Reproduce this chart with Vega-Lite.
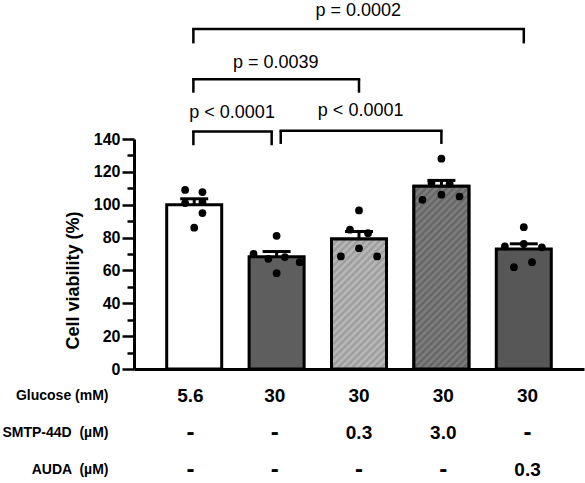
{
  "$schema": "https://vega.github.io/schema/vega-lite/v6.json",
  "padding": {"left": 1, "top": 1, "right": 1, "bottom": 0},
  "bounds": "flush",
  "spacing": 8,
  "config": {
    "view": {"stroke": null},
    "font": "Liberation Sans",
    "axis": {"labelFont": "Liberation Sans", "titleFont": "Liberation Sans", "labelColor": "black", "titleColor": "black"}
  },
  "datasets": {
    "groups": [
      {"group": 1, "cond": "Glucose 5.6", "mean": 100, "upper": 103.6},
      {"group": 2, "cond": "Glucose 30", "mean": 68.3, "upper": 71.5},
      {"group": 3, "cond": "Glucose 30 + SMTP-44D 0.3", "mean": 79.1, "upper": 83.7},
      {"group": 4, "cond": "Glucose 30 + SMTP-44D 3.0", "mean": 111.2, "upper": 114.8},
      {"group": 5, "cond": "Glucose 30 + AUDA 0.3", "mean": 73, "upper": 76.2}
    ],
    "points": [
      {"group": 1, "pos": 0.89, "viability": 109},
      {"group": 1, "pos": 1.1, "viability": 107.7},
      {"group": 1, "pos": 0.89, "viability": 101},
      {"group": 1, "pos": 1.1, "viability": 101.6},
      {"group": 1, "pos": 1.1, "viability": 94.9},
      {"group": 1, "pos": 1.0, "viability": 86},
      {"group": 2, "pos": 1.72, "viability": 70.1},
      {"group": 2, "pos": 2.0, "viability": 81.1},
      {"group": 2, "pos": 1.9, "viability": 67.1},
      {"group": 2, "pos": 2.1, "viability": 68.1},
      {"group": 2, "pos": 2.28, "viability": 65},
      {"group": 2, "pos": 2.0, "viability": 58.3},
      {"group": 3, "pos": 3.0, "viability": 96.5},
      {"group": 3, "pos": 2.89, "viability": 84.8},
      {"group": 3, "pos": 3.11, "viability": 82.7},
      {"group": 3, "pos": 3.0, "viability": 73.5},
      {"group": 3, "pos": 2.78, "viability": 68.5},
      {"group": 3, "pos": 3.22, "viability": 68.5},
      {"group": 4, "pos": 4.0, "viability": 128},
      {"group": 4, "pos": 3.88, "viability": 113.2},
      {"group": 4, "pos": 4.1, "viability": 112.8},
      {"group": 4, "pos": 3.77, "viability": 103},
      {"group": 4, "pos": 4.0, "viability": 106.1},
      {"group": 4, "pos": 4.22, "viability": 105},
      {"group": 5, "pos": 5.0, "viability": 86.3},
      {"group": 5, "pos": 4.77, "viability": 74.6},
      {"group": 5, "pos": 5.0, "viability": 76.2},
      {"group": 5, "pos": 5.22, "viability": 74.1},
      {"group": 5, "pos": 4.88, "viability": 62},
      {"group": 5, "pos": 5.1, "viability": 65}
    ],
    "brackets": [
      {"from": 0.99, "to": 5.0, "top": 207, "leg": 198.2, "mid": 2.99, "textY": 218, "p": "p = 0.0002"},
      {"from": 0.99, "to": 3.0, "top": 176.3, "leg": 168.2, "mid": 1.99, "textY": 186.4, "p": "p = 0.0039"},
      {"from": 0.99, "to": 1.94, "top": 144.6, "leg": 136.2, "mid": 1.46, "textY": 156, "p": "p < 0.0001"},
      {"from": 2.05, "to": 4.0, "top": 145, "leg": 137, "mid": 3.02, "textY": 157.2, "p": "p < 0.0001"}
    ],
    "table": [
      {"group": 1, "row": "Glucose (mM)", "value": "5.6"},
      {"group": 2, "row": "Glucose (mM)", "value": "30"},
      {"group": 3, "row": "Glucose (mM)", "value": "30"},
      {"group": 4, "row": "Glucose (mM)", "value": "30"},
      {"group": 5, "row": "Glucose (mM)", "value": "30"},
      {"group": 1, "row": "SMTP-44D \u00a0(µM)", "value": "-"},
      {"group": 2, "row": "SMTP-44D \u00a0(µM)", "value": "-"},
      {"group": 3, "row": "SMTP-44D \u00a0(µM)", "value": "0.3"},
      {"group": 4, "row": "SMTP-44D \u00a0(µM)", "value": "3.0"},
      {"group": 5, "row": "SMTP-44D \u00a0(µM)", "value": "-"},
      {"group": 1, "row": "AUDA \u00a0(µM)", "value": "-"},
      {"group": 2, "row": "AUDA \u00a0(µM)", "value": "-"},
      {"group": 3, "row": "AUDA \u00a0(µM)", "value": "-"},
      {"group": 4, "row": "AUDA \u00a0(µM)", "value": "-"},
      {"group": 5, "row": "AUDA \u00a0(µM)", "value": "0.3"}
    ]
  },
  "vconcat": [
    {
      "width": 450,
      "height": 230,
      "resolve": {"scale": {"y": "independent"}},
      "layer": [
        {
          "data": {"name": "groups"},
          "mark": {"type": "bar", "width": 55, "orient": "vertical", "stroke": "black", "strokeWidth": 3},
          "encoding": {
            "x": {
              "field": "group", "type": "quantitative",
              "scale": {"domain": [0.33, 5.67], "nice": false, "zero": false},
              "axis": {"labels": false, "ticks": false, "title": null, "grid": false, "domainColor": "black", "domainWidth": 3}
            },
            "y": {
              "field": "mean", "type": "quantitative",
              "scale": {"domain": [0, 140], "nice": false},
              "axis": {
                "orient": "left",
                "title": "Cell viability (%)",
                "values": [0, 20, 40, 60, 80, 100, 120, 140],
                "labelOverlap": false,
                "grid": false,
                "domainColor": "black", "domainWidth": 3,
                "tickColor": "black", "tickWidth": 2.5, "tickSize": 12,
                "labelFontSize": 16, "labelFontWeight": "bold", "labelPadding": 2,
                "titleFontSize": 18, "titleFontWeight": "bold", "titlePadding": 11, "titleY": 141
              }
            },
            "fill": {
              "field": "cond", "type": "nominal",
              "scale": {"domain": ["Glucose 5.6", "Glucose 30", "Glucose 30 + SMTP-44D 0.3", "Glucose 30 + SMTP-44D 3.0", "Glucose 30 + AUDA 0.3"],
                        "range": ["#ffffff", "#5e5e5e", "#ababab", "#727272", "#575757"]},
              "legend": null
            }
          }
        },
        {
          "data": {"name": "groups"},
          "transform": [{"filter": "datum.group === 3"}],
          "mark": {
            "type": "bar", "width": 55, "orient": "vertical", "stroke": "black", "strokeWidth": 3,
            "fill": {
              "gradient": "linear", "x1": 0, "y1": 0, "x2": 0.5106, "y2": 1.207,
              "stops": [
                {"offset": 0, "color": "#999999"}, {"offset": 0.0192, "color": "#bdbdbd"},
                {"offset": 0.0385, "color": "#999999"}, {"offset": 0.0577, "color": "#bdbdbd"},
                {"offset": 0.0769, "color": "#999999"}, {"offset": 0.0962, "color": "#bdbdbd"},
                {"offset": 0.1154, "color": "#999999"}, {"offset": 0.1346, "color": "#bdbdbd"},
                {"offset": 0.1538, "color": "#999999"}, {"offset": 0.1731, "color": "#bdbdbd"},
                {"offset": 0.1923, "color": "#999999"}, {"offset": 0.2115, "color": "#bdbdbd"},
                {"offset": 0.2308, "color": "#999999"}, {"offset": 0.25, "color": "#bdbdbd"},
                {"offset": 0.2692, "color": "#999999"}, {"offset": 0.2885, "color": "#bdbdbd"},
                {"offset": 0.3077, "color": "#999999"}, {"offset": 0.3269, "color": "#bdbdbd"},
                {"offset": 0.3462, "color": "#999999"}, {"offset": 0.3654, "color": "#bdbdbd"},
                {"offset": 0.3846, "color": "#999999"}, {"offset": 0.4038, "color": "#bdbdbd"},
                {"offset": 0.4231, "color": "#999999"}, {"offset": 0.4423, "color": "#bdbdbd"},
                {"offset": 0.4615, "color": "#999999"}, {"offset": 0.4808, "color": "#bdbdbd"},
                {"offset": 0.5, "color": "#999999"}, {"offset": 0.5192, "color": "#bdbdbd"},
                {"offset": 0.5385, "color": "#999999"}, {"offset": 0.5577, "color": "#bdbdbd"},
                {"offset": 0.5769, "color": "#999999"}, {"offset": 0.5962, "color": "#bdbdbd"},
                {"offset": 0.6154, "color": "#999999"}, {"offset": 0.6346, "color": "#bdbdbd"},
                {"offset": 0.6538, "color": "#999999"}, {"offset": 0.6731, "color": "#bdbdbd"},
                {"offset": 0.6923, "color": "#999999"}, {"offset": 0.7115, "color": "#bdbdbd"},
                {"offset": 0.7308, "color": "#999999"}, {"offset": 0.75, "color": "#bdbdbd"},
                {"offset": 0.7692, "color": "#999999"}, {"offset": 0.7885, "color": "#bdbdbd"},
                {"offset": 0.8077, "color": "#999999"}, {"offset": 0.8269, "color": "#bdbdbd"},
                {"offset": 0.8462, "color": "#999999"}, {"offset": 0.8654, "color": "#bdbdbd"},
                {"offset": 0.8846, "color": "#999999"}, {"offset": 0.9038, "color": "#bdbdbd"},
                {"offset": 0.9231, "color": "#999999"}, {"offset": 0.9423, "color": "#bdbdbd"},
                {"offset": 0.9615, "color": "#999999"}, {"offset": 0.9808, "color": "#bdbdbd"},
                {"offset": 1, "color": "#999999"}
              ]
            }
          },
          "encoding": {
            "x": {"field": "group", "type": "quantitative"},
            "y": {"field": "mean", "type": "quantitative", "scale": {"domain": [0, 140], "nice": false}, "axis": null}
          }
        },
        {
          "data": {"name": "groups"},
          "transform": [{"filter": "datum.group === 4"}],
          "mark": {
            "type": "bar", "width": 55, "orient": "vertical", "stroke": "black", "strokeWidth": 3,
            "fill": {
              "gradient": "linear", "x1": 0, "y1": 0, "x2": 0.3591, "y2": 1.193,
              "stops": [
                {"offset": 0, "color": "#626262"}, {"offset": 0.0147, "color": "#828282"},
                {"offset": 0.0294, "color": "#626262"}, {"offset": 0.0441, "color": "#828282"},
                {"offset": 0.0588, "color": "#626262"}, {"offset": 0.0735, "color": "#828282"},
                {"offset": 0.0882, "color": "#626262"}, {"offset": 0.1029, "color": "#828282"},
                {"offset": 0.1176, "color": "#626262"}, {"offset": 0.1324, "color": "#828282"},
                {"offset": 0.1471, "color": "#626262"}, {"offset": 0.1618, "color": "#828282"},
                {"offset": 0.1765, "color": "#626262"}, {"offset": 0.1912, "color": "#828282"},
                {"offset": 0.2059, "color": "#626262"}, {"offset": 0.2206, "color": "#828282"},
                {"offset": 0.2353, "color": "#626262"}, {"offset": 0.25, "color": "#828282"},
                {"offset": 0.2647, "color": "#626262"}, {"offset": 0.2794, "color": "#828282"},
                {"offset": 0.2941, "color": "#626262"}, {"offset": 0.3088, "color": "#828282"},
                {"offset": 0.3235, "color": "#626262"}, {"offset": 0.3382, "color": "#828282"},
                {"offset": 0.3529, "color": "#626262"}, {"offset": 0.3676, "color": "#828282"},
                {"offset": 0.3824, "color": "#626262"}, {"offset": 0.3971, "color": "#828282"},
                {"offset": 0.4118, "color": "#626262"}, {"offset": 0.4265, "color": "#828282"},
                {"offset": 0.4412, "color": "#626262"}, {"offset": 0.4559, "color": "#828282"},
                {"offset": 0.4706, "color": "#626262"}, {"offset": 0.4853, "color": "#828282"},
                {"offset": 0.5, "color": "#626262"}, {"offset": 0.5147, "color": "#828282"},
                {"offset": 0.5294, "color": "#626262"}, {"offset": 0.5441, "color": "#828282"},
                {"offset": 0.5588, "color": "#626262"}, {"offset": 0.5735, "color": "#828282"},
                {"offset": 0.5882, "color": "#626262"}, {"offset": 0.6029, "color": "#828282"},
                {"offset": 0.6176, "color": "#626262"}, {"offset": 0.6324, "color": "#828282"},
                {"offset": 0.6471, "color": "#626262"}, {"offset": 0.6618, "color": "#828282"},
                {"offset": 0.6765, "color": "#626262"}, {"offset": 0.6912, "color": "#828282"},
                {"offset": 0.7059, "color": "#626262"}, {"offset": 0.7206, "color": "#828282"},
                {"offset": 0.7353, "color": "#626262"}, {"offset": 0.75, "color": "#828282"},
                {"offset": 0.7647, "color": "#626262"}, {"offset": 0.7794, "color": "#828282"},
                {"offset": 0.7941, "color": "#626262"}, {"offset": 0.8088, "color": "#828282"},
                {"offset": 0.8235, "color": "#626262"}, {"offset": 0.8382, "color": "#828282"},
                {"offset": 0.8529, "color": "#626262"}, {"offset": 0.8676, "color": "#828282"},
                {"offset": 0.8824, "color": "#626262"}, {"offset": 0.8971, "color": "#828282"},
                {"offset": 0.9118, "color": "#626262"}, {"offset": 0.9265, "color": "#828282"},
                {"offset": 0.9412, "color": "#626262"}, {"offset": 0.9559, "color": "#828282"},
                {"offset": 0.9706, "color": "#626262"}, {"offset": 0.9853, "color": "#828282"},
                {"offset": 1, "color": "#626262"}
              ]
            }
          },
          "encoding": {
            "x": {"field": "group", "type": "quantitative"},
            "y": {"field": "mean", "type": "quantitative", "scale": {"domain": [0, 140], "nice": false}, "axis": null}
          }
        },
        {
          "data": {"name": "groups"},
          "mark": {"type": "rule", "color": "black", "strokeWidth": 3},
          "encoding": {
            "x": {"field": "group", "type": "quantitative"},
            "y": {
              "field": "mean", "type": "quantitative",
              "scale": {"domain": [0, 140], "nice": false},
              "axis": {
                "orient": "left", "title": null, "labels": false, "domain": false, "grid": false,
                "values": [10, 30, 50, 70, 90, 110, 130],
                "tickColor": "black", "tickWidth": 2.5, "tickSize": 7
              }
            },
            "y2": {"field": "upper"}
          }
        },
        {
          "data": {"name": "groups"},
          "mark": {"type": "tick", "orient": "horizontal", "color": "black", "size": 28, "thickness": 3, "opacity": 1},
          "encoding": {
            "x": {"field": "group", "type": "quantitative"},
            "y": {"field": "upper", "type": "quantitative", "scale": {"domain": [0, 140], "nice": false}, "axis": null}
          }
        },
        {
          "data": {"name": "points"},
          "mark": {"type": "circle", "color": "black", "size": 60, "opacity": 1},
          "encoding": {
            "x": {"field": "pos", "type": "quantitative"},
            "y": {"field": "viability", "type": "quantitative", "scale": {"domain": [0, 140], "nice": false}, "axis": null}
          }
        },
        {
          "data": {"name": "brackets"},
          "mark": {"type": "rule", "color": "black", "strokeWidth": 2.5, "strokeCap": "square"},
          "encoding": {
            "x": {"field": "from", "type": "quantitative"},
            "x2": {"field": "to"},
            "y": {"field": "top", "type": "quantitative", "scale": {"domain": [0, 140], "nice": false}, "axis": null}
          }
        },
        {
          "data": {"name": "brackets"},
          "mark": {"type": "rule", "color": "black", "strokeWidth": 2.5},
          "encoding": {
            "x": {"field": "from", "type": "quantitative"},
            "y": {"field": "top", "type": "quantitative", "scale": {"domain": [0, 140], "nice": false}, "axis": null},
            "y2": {"field": "leg"}
          }
        },
        {
          "data": {"name": "brackets"},
          "mark": {"type": "rule", "color": "black", "strokeWidth": 2.5},
          "encoding": {
            "x": {"field": "to", "type": "quantitative"},
            "y": {"field": "top", "type": "quantitative", "scale": {"domain": [0, 140], "nice": false}, "axis": null},
            "y2": {"field": "leg"}
          }
        },
        {
          "data": {"name": "brackets"},
          "mark": {"type": "text", "fontSize": 18, "color": "black", "baseline": "middle", "align": "center"},
          "encoding": {
            "x": {"field": "mid", "type": "quantitative"},
            "y": {"field": "textY", "type": "quantitative", "scale": {"domain": [0, 140], "nice": false}, "axis": null},
            "text": {"field": "p"}
          }
        }
      ]
    },
    {
      "width": 450,
      "height": 111,
      "data": {"name": "table"},
      "mark": {"type": "text", "fontWeight": "bold", "color": "black", "baseline": "middle"},
      "encoding": {
        "x": {
          "field": "group", "type": "quantitative",
          "scale": {"domain": [0.33, 5.67], "nice": false, "zero": false},
          "axis": null
        },
        "y": {
          "field": "row", "type": "ordinal",
          "sort": ["Glucose (mM)", "SMTP-44D \u00a0(µM)", "AUDA \u00a0(µM)"],
          "axis": {"title": null, "domain": false, "ticks": false, "labelPadding": 26, "labelFontSize": 14, "labelFontWeight": "bold"}
        },
        "size": {"condition": {"test": "datum.value === '-'", "value": 24}, "value": 19},
        "text": {"field": "value"}
      }
    }
  ]
}
